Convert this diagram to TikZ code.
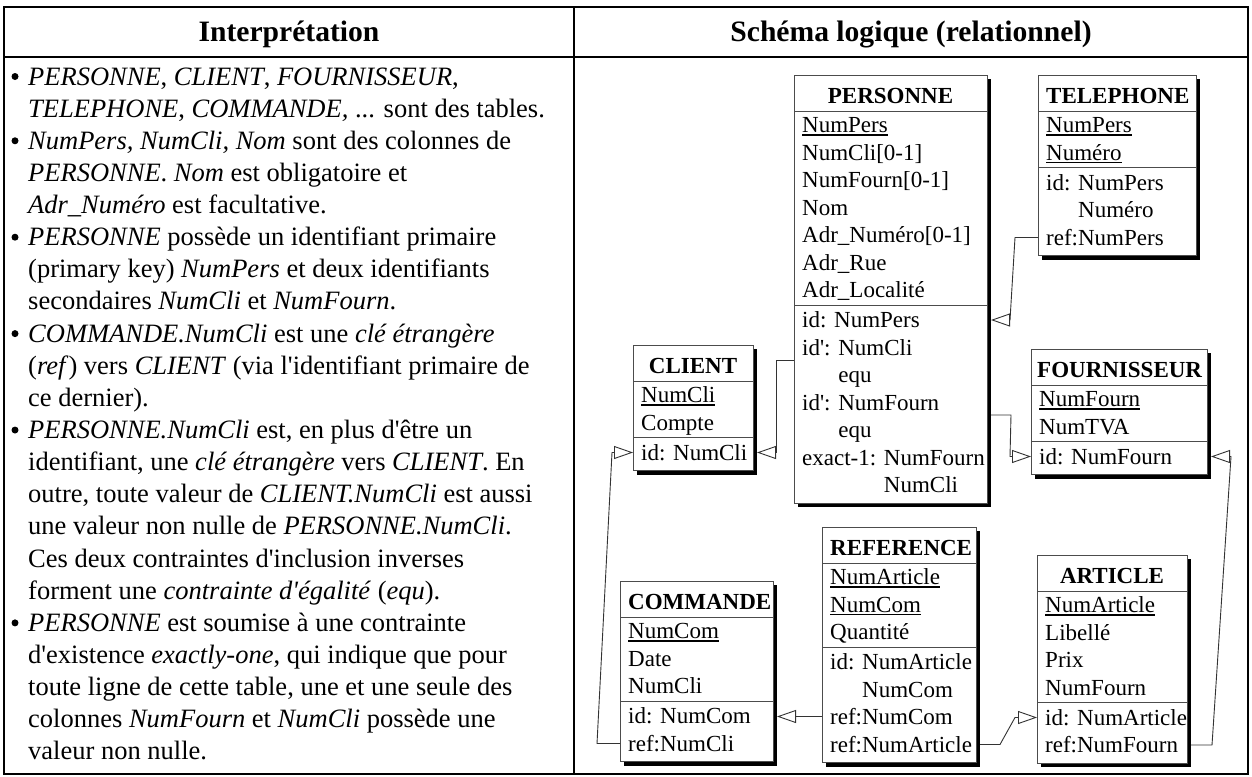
\documentclass[tikz,border=0pt]{standalone}
\usepackage{fontspec}
\setmainfont{Liberation Serif}[Ligatures=TeXOff]
\usetikzlibrary{arrows.meta,shadows}
\newcommand\uln[1]{\setbox0\hbox{#1}\rlap{\rule[-3pt]{\wd0}{1.4pt}}\box0}
\newcommand\dbtab[6]{% name, left, top, right, nA, nC
  \pgfmathsetmacro\tbSepA{#3+36}%
  \pgfmathsetmacro\tbSepB{#3+65+(#5-1)*27.5}%
  \pgfmathsetmacro\tbBot{\tbSepB+33+(#6-1)*27.5}%
  \pgfmathsetmacro\tbW{#4-#2}%
  \pgfmathsetmacro\tbH{\tbBot-#3}%
  \node[tbox, minimum width=\tbW pt, minimum height=\tbH pt] (#1) at (#2,#3) {};
  \draw[sepline] (#2,\tbSepA) -- (#4,\tbSepA) (#2,\tbSepB) -- (#4,\tbSepB);
}
\newcommand\trow[4]{\node[rowtxt] (#1) at (#2,#3+7.5) {#4};}
\newcommand\cliptitle[6]{% name, left, top, right, textx, text
  \begin{scope}
    \clip (#2,#3) rectangle (#4,#3+36);
    \node[ttl, anchor=base west] (#1) at (#5,#3+28.5) {#6};
  \end{scope}}
\newcommand\bull[2]{\node[bul] (#1) at (15,#2-8.5) {};}
\tikzset{
  frame/.style={draw=black, line width=2pt},
  tbox/.style={draw=black!70, line width=0.9pt, fill=white, inner sep=0pt, outer sep=0pt, anchor=north west,
    drop shadow={shadow xshift=4pt, shadow yshift=-4pt, fill=black, opacity=1}},
  sepline/.style={draw=black!70, line width=0.9pt},
  rowtxt/.style={anchor=base west, inner sep=0pt, font=\fontsize{23}{27}\selectfont},
  ttl/.style={inner sep=0pt, font=\fontsize{23}{27}\selectfont\bfseries},
  txt/.style={anchor=base west, inner sep=0pt, font=\fontsize{26.5}{32}\selectfont},
  bul/.style={circle, fill=black, inner sep=0pt, minimum size=7pt},
  hdr/.style={anchor=base, inner sep=0pt, font=\fontsize{29.6}{34}\selectfont\bfseries},
  conn/.style={draw=black!80, line width=0.9pt, -{Triangle[open, length=19pt, width=13pt]}},
}
\begin{document}
\begin{tikzpicture}[x=1pt,y=-1pt]
\useasboundingbox (0,0) rectangle (1252,776);
\fill[white] (0,0) rectangle (1252,776);
% outer table
\draw[frame] (4,7) rectangle (1248,774);
\draw[frame] (4,57) -- (1248,57);
\draw[frame] (574,7) -- (574,774);
\node[hdr] (h1) at (289,42) {Interprétation};
\node[hdr] (h2) at (911,42) {Schéma logique (relationnel)};
% left text
\bull{b1}{85}
\node[txt] (l1) at (28,85) {\textit{PERSONNE}, \textit{CLIENT}, \textit{FOURNISSEUR},};
\node[txt] (l2) at (28,117.14) {\textit{TELEPHONE}, \textit{COMMANDE,} ... sont des tables.};
\bull{b2}{149.28}
\node[txt] (l3) at (28,149.28) {\textit{NumPers, NumCli, Nom} sont des colonnes de};
\node[txt] (l4) at (28,181.42) {\textit{PERSONNE}. \textit{Nom} est obligatoire et};
\node[txt] (l5) at (28,213.56) {\textit{Adr\_Numéro} est facultative.};
\bull{b3}{245.7}
\node[txt] (l6) at (28,245.7) {\textit{PERSONNE} possède un identifiant primaire};
\node[txt] (l7) at (28,277.84) {(primary key) \textit{NumPers} et deux identifiants};
\node[txt] (l8) at (28,309.98) {secondaires \textit{NumCli} et \textit{NumFourn}.};
\bull{b4}{342.12}
\node[txt] (l9) at (28,342.12) {\textit{COMMANDE.NumCli} est une \textit{clé étrangère}};
\node[txt] (l10) at (28,374.26) {(\textit{ref}) vers \textit{CLIENT} (via l'identifiant primaire de};
\node[txt] (l11) at (28,406.4) {ce dernier).};
\bull{b5}{438.54}
\node[txt] (l12) at (28,438.54) {\textit{PERSONNE.NumCli} est, en plus d'être un};
\node[txt] (l13) at (28,470.68) {identifiant, une \textit{clé étrangère} vers \textit{CLIENT}. En};
\node[txt] (l14) at (28,502.82) {outre, toute valeur de \textit{CLIENT.NumCli} est aussi};
\node[txt] (l15) at (28,534.96) {une valeur non nulle de \textit{PERSONNE.NumCli}.};
\node[txt] (l16) at (28,567.1) {Ces deux contraintes d'inclusion inverses};
\node[txt] (l17) at (28,599.24) {forment une \textit{contrainte d'égalité} (\textit{equ}).};
\bull{b6}{631.38}
\node[txt] (l18) at (28,631.38) {\textit{PERSONNE} est soumise à une contrainte};
\node[txt] (l19) at (28,663.52) {d'existence \textit{exactly-one}, qui indique que pour};
\node[txt] (l20) at (28,695.66) {toute ligne de cette table, une et une seule des};
\node[txt] (l21) at (28,727.8) {colonnes \textit{NumFourn} et \textit{NumCli} possède une};
\node[txt] (l22) at (28,759.94) {valeur non nulle.};
% ---------- tables ----------
% PERSONNE
\dbtab{personne}{794}{75}{987}{7}{7}
\node[ttl, anchor=base] (pt) at (890.5,103.5) {PERSONNE};
\trow{pa1}{802}{125}{\uln{NumPers}}
\trow{pa2}{802}{152.5}{NumCli[0-1]}
\trow{pa3}{802}{180}{NumFourn[0-1]}
\trow{pa4}{802}{207.5}{Nom}
\trow{pa5}{802}{235}{Adr\_Numéro[0-1]}
\trow{pa6}{802}{262.5}{Adr\_Rue}
\trow{pa7}{802}{290}{Adr\_Localité}
\trow{pc1}{802}{320}{id: NumPers}
\trow{pc2}{802}{347.5}{id': NumCli}
\trow{pc3}{802}{375}{\phantom{id': }equ}
\trow{pc4}{802}{402.5}{id': NumFourn}
\trow{pc5}{802}{430}{\phantom{id': }equ}
\trow{pc6}{802}{457.5}{exact-1: NumFourn}
\trow{pc7}{802}{485}{\phantom{exact-1: }NumCli}
% TELEPHONE
\dbtab{telephone}{1038}{75}{1196}{2}{3}
\cliptitle{tt}{1038}{75}{1196}{1046}{TELEPHONE}
\trow{ta1}{1046}{125}{\uln{NumPers}}
\trow{ta2}{1046}{152.5}{\uln{Numéro}}
\trow{tc1}{1046}{182.5}{id: NumPers}
\trow{tc2}{1046}{210}{\phantom{id: }Numéro}
\trow{tc3}{1046}{237.5}{ref:NumPers}
% CLIENT
\dbtab{client}{633}{345}{753}{2}{1}
\node[ttl, anchor=base] (ct) at (693,373.5) {CLIENT};
\trow{ca1}{641}{395}{\uln{NumCli}}
\trow{ca2}{641}{422.5}{Compte}
\trow{cc1}{641}{452.5}{id: NumCli}
% FOURNISSEUR
\dbtab{fournisseur}{1031}{349}{1207}{2}{1}
\cliptitle{ft}{1031}{349}{1207}{1037}{FOURNISSEUR}
\trow{fa1}{1039}{399}{\uln{NumFourn}}
\trow{fa2}{1039}{426.5}{NumTVA}
\trow{fc1}{1039}{456.5}{id: NumFourn}
% COMMANDE
\dbtab{commande}{620}{581}{773}{3}{2}
\cliptitle{mt}{620}{581}{773}{628}{COMMANDE}
\trow{ma1}{628}{631}{\uln{NumCom}}
\trow{ma2}{628}{658.5}{Date}
\trow{ma3}{628}{686}{NumCli}
\trow{mc1}{628}{716}{id: NumCom}
\trow{mc2}{628}{743.5}{ref:NumCli}
% REFERENCE
\dbtab{reference}{822}{527}{976}{3}{4}
\cliptitle{rt}{822}{527}{976}{830}{REFERENCE}
\trow{ra1}{830}{577}{\uln{NumArticle}}
\trow{ra2}{830}{604.5}{\uln{NumCom}}
\trow{ra3}{830}{632}{Quantité}
\trow{rc1}{830}{662}{id: NumArticle}
\trow{rc2}{830}{689.5}{\phantom{id: }NumCom}
\trow{rc3}{830}{717}{ref:NumCom}
\trow{rc4}{830}{744.5}{ref:NumArticle}
% ARTICLE
\dbtab{article}{1037}{555}{1187}{4}{2}
\node[ttl, anchor=base] (at) at (1112,583.5) {ARTICLE};
\trow{aa1}{1045}{605}{\uln{NumArticle}}
\trow{aa2}{1045}{632.5}{Libellé}
\trow{aa3}{1045}{660}{Prix}
\trow{aa4}{1045}{687.5}{NumFourn}
\trow{ac1}{1045}{717.5}{id: NumArticle}
\trow{ac2}{1045}{745}{ref:NumFourn}
% ---------- connectors ----------
\coordinate (k1a) at (1038,237.5); \coordinate (k1b) at (1015,237.5);
\coordinate (k1c) at (1010,320);   \coordinate (k1d) at (991,320);
\draw[conn] (k1a) -- (k1b) -- (k1c) -- (k1d);
\coordinate (k2a) at (794,360); \coordinate (k2b) at (776,360);
\coordinate (k2c) at (776,452.5); \coordinate (k2d) at (757,452.5);
\draw[conn] (k2a) -- (k2b) -- (k2c) -- (k2d);
\coordinate (k3a) at (991,415); \coordinate (k3b) at (1011,415);
\coordinate (k3c) at (1010,456.5); \coordinate (k3d) at (1031,456.5);
\draw[conn] (k3a) -- (k3b) -- (k3c) -- (k3d);
\coordinate (k4a) at (620,743.5); \coordinate (k4b) at (597,743.5);
\coordinate (k4c) at (612,452.5); \coordinate (k4d) at (633,452.5);
\draw[conn] (k4a) -- (k4b) -- (k4c) -- (k4d);
\coordinate (k5a) at (822,716.5); \coordinate (k5b) at (777,716.5);
\draw[conn] (k5a) -- (k5b);
\coordinate (k6a) at (980,744.5); \coordinate (k6b) at (1000,744.5);
\coordinate (k6c) at (1015,717.5); \coordinate (k6d) at (1037,717.5);
\draw[conn] (k6a) -- (k6b) -- (k6c) -- (k6d);
\coordinate (k7a) at (1191,745); \coordinate (k7b) at (1212,745);
\coordinate (k7c) at (1231,456.5); \coordinate (k7d) at (1211,456.5);
\draw[conn] (k7a) -- (k7b) -- (k7c) -- (k7d);
\end{tikzpicture}
\end{document}
